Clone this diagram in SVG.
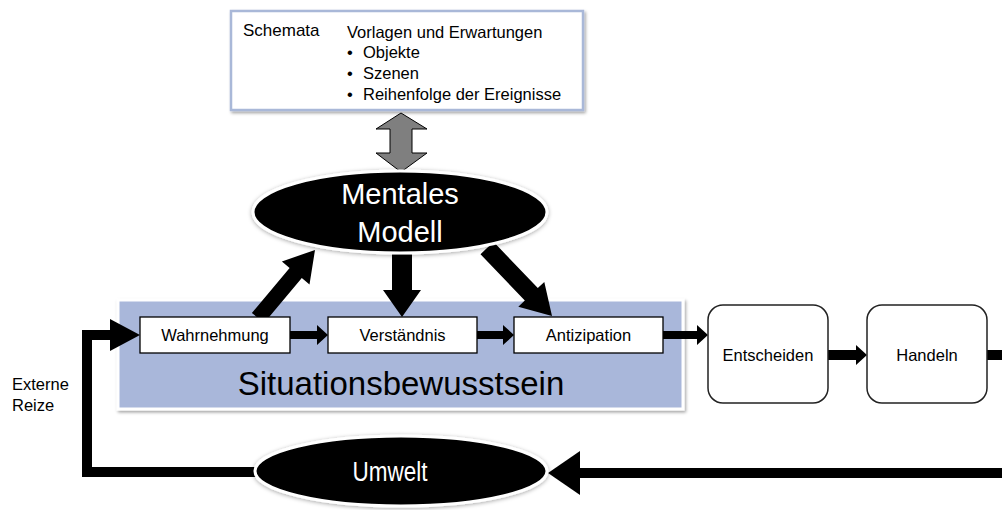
<svg xmlns="http://www.w3.org/2000/svg" width="1002" height="510" viewBox="0 0 1002 510">
  <defs>
    <filter id="shadow" x="-10%" y="-20%" width="120%" height="140%">
      <feDropShadow dx="1.5" dy="2" stdDeviation="1.8" flood-color="#000" flood-opacity="0.35"/>
    </filter>
    <filter id="glow" x="-10%" y="-20%" width="120%" height="140%">
      <feDropShadow dx="0" dy="1" stdDeviation="2" flood-color="#000" flood-opacity="0.35"/>
    </filter>
  </defs>
  <style>
    text { font-family: "Liberation Sans", Arial, sans-serif; fill: #000; }
    .small { font-size: 16.5px; }
    .mid { text-anchor: middle; }
    .light { fill: #fff; }
    .step { fill: #fff; stroke: #000; stroke-width: 1.3; }
    .action { fill: #fff; stroke: #222; stroke-width: 1.5; }
    .oval { fill: #000; stroke: #fff; stroke-width: 3; filter: url(#glow); }
    .block { fill: #000; }
    .line { fill: none; stroke: #000; stroke-width: 10; }
  </style>

  <rect width="1002" height="510" fill="#fff"/>

  <!-- Schemata box -->
  <g id="schemata">
    <rect x="231" y="11" width="352" height="99" fill="#fff" stroke="#A9B8D8" stroke-width="2.5" filter="url(#shadow)"/>
    <text x="243" y="36" style="font-size:17px">Schemata</text>
    <text x="347" y="38" class="small">Vorlagen und Erwartungen</text>
    <text x="347" y="58" class="small">•</text>
    <text x="363" y="58" class="small">Objekte</text>
    <text x="347" y="79" class="small">•</text>
    <text x="363" y="79" class="small">Szenen</text>
    <text x="347" y="100" class="small">•</text>
    <text x="363" y="100" class="small">Reihenfolge der Ereignisse</text>
  </g>

  <!-- Situation awareness panel -->
  <g id="situationsbewusstsein">
    <rect x="118" y="300" width="565" height="109" fill="#A9B7DA" stroke="#fff" stroke-width="3" filter="url(#shadow)"/>
    <text x="401" y="395" class="mid" style="font-size:33px">Situationsbewusstsein</text>
  </g>

  <!-- Connectors -->
  <g id="connectors">
    <!-- schemata <-> mental model -->
    <polygon points="401,113 427,129 412,129 412,153 427,153 401,172 376,153 390,153 390,129 376,129" fill="#7F7F7F" stroke="#000" stroke-width="1"/>
    <!-- perception -> mental model -->
    <polygon class="block" points="251.9,312.9 289.6,267.9 281.9,261.4 315,250 309.5,284.6 301.8,278.1 264.1,323.1"/>
    <!-- mental model -> comprehension -->
    <polygon class="block" points="392,245 412,245 412,290 421,290 402,317 383,290 392,290"/>
    <!-- mental model -> projection -->
    <polygon class="block" points="493.5,241.8 537.8,288.1 544.3,281.9 552,316 518.3,306.7 524.8,300.5 480.5,254.2"/>
    <!-- step chain -->
    <polygon class="block" points="290,331 317,331 317,325 328,335 317,345 317,339 290,339"/>
    <polygon class="block" points="477,331 503,331 503,325 514,335 503,345 503,339 477,339"/>
    <polygon class="block" points="663,331 697,331 697,325 708,335 697,345 697,339 663,339"/>
    <polygon class="block" points="828,350 856,350 856,345 867,355 856,365 856,360 828,360"/>
    <!-- action -> environment -->
    <polyline class="line" points="987,355 1015,355 1015,473 577,473"/>
    <polygon class="block" points="580,451 548,473 580,495"/>
    <!-- environment -> perception -->
    <polyline class="line" points="262,472 87,472 87,335 112,335"/>
    <polygon class="block" points="110,319 140,335 110,351"/>
  </g>

  <!-- Processing steps -->
  <g id="wahrnehmung">
    <rect x="140" y="317" width="150" height="36" class="step"/>
    <text x="215" y="341" class="small mid">Wahrnehmung</text>
  </g>
  <g id="verstaendnis">
    <rect x="328" y="317" width="149" height="36" class="step"/>
    <text x="402.5" y="341" class="small mid">Verständnis</text>
  </g>
  <g id="antizipation">
    <rect x="514" y="317" width="149" height="36" class="step"/>
    <text x="588.5" y="341" class="small mid">Antizipation</text>
  </g>

  <g id="entscheiden">
    <rect x="708" y="305" width="120" height="98" rx="15" class="action"/>
    <text x="768" y="361" class="small mid">Entscheiden</text>
  </g>
  <g id="handeln">
    <rect x="867" y="305" width="120" height="98" rx="15" class="action"/>
    <text x="927" y="361" class="small mid">Handeln</text>
  </g>

  <!-- Mental model -->
  <g id="mentales-modell">
    <ellipse cx="400" cy="212" rx="147" ry="41" class="oval"/>
    <text x="400" y="204" class="mid light" style="font-size:29px">Mentales</text>
    <text x="400" y="242" class="mid light" style="font-size:29px">Modell</text>
  </g>

  <!-- Environment -->
  <g id="umwelt">
    <ellipse cx="401" cy="471" rx="146" ry="35" class="oval"/>
    <text x="390" y="481" class="mid light" style="font-size:27px" textLength="75" lengthAdjust="spacingAndGlyphs">Umwelt</text>
  </g>

  <!-- External stimuli label -->
  <g id="externe-reize">
    <text x="12" y="390" class="small">Externe</text>
    <text x="12" y="411" class="small">Reize</text>
  </g>
</svg>
